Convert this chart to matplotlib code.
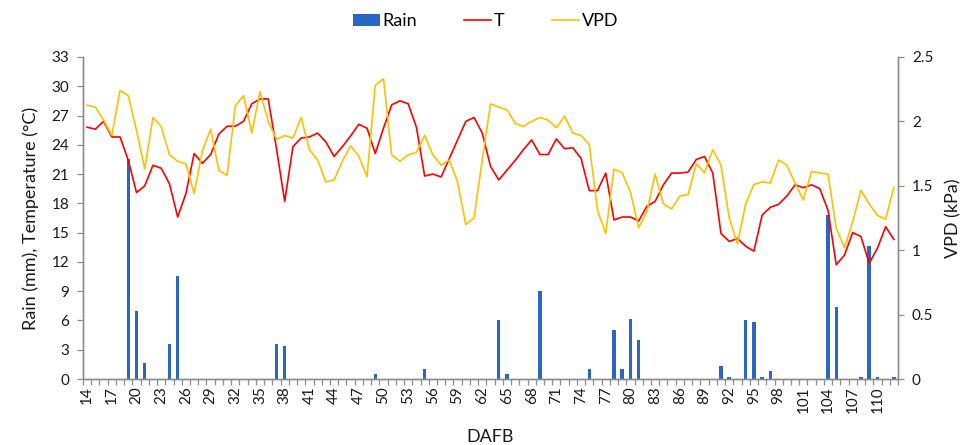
import numpy as np
import matplotlib.pyplot as plt

plt.rcParams['font.family'] = ['Lato', 'DejaVu Sans']

# === DONNÉES ===
dafb = list(range(14, 113))

rain = [0, 0, 0, 0, 0, 22.5, 7.0, 1.6, 0, 0,
        3.6, 10.6, 0, 0, 0, 0, 0, 0, 0, 0,
        0, 0, 0, 3.6, 3.4, 0, 0, 0, 0, 0,
        0, 0, 0, 0, 0, 0.5, 0, 0, 0, 0,
        0, 1.0, 0, 0, 0, 0, 0, 0, 0, 0,
        6.0, 0.5, 0, 0, 0, 9.0, 0, 0, 0, 0,
        0, 1.0, 0, 0, 5.0, 1.0, 6.2, 4.0, 0, 0,
        0, 0, 0, 0, 0, 0, 0, 1.3, 0.2, 0,
        6.0, 5.8, 0.2, 0.8, 0, 0, 0, 0, 0, 0,
        16.8, 7.4, 0, 0, 0.2, 13.6, 0.2, 0, 0.2]

temp = [25.8, 25.6, 26.4, 24.8, 24.8, 22.4, 19.1, 19.8, 21.9, 21.6,
        20.0, 16.6, 19.0, 23.1, 22.1, 23.0, 25.1, 25.9, 25.9, 26.4,
        28.2, 28.7, 28.7, 23.6, 18.2, 23.8, 24.7, 24.8, 25.2, 24.3,
        22.8, 23.8, 24.9, 26.1, 25.7, 23.1, 25.7, 28.1, 28.5, 28.2,
        25.8, 20.8, 21.0, 20.7, 22.6, 24.5, 26.4, 26.8, 25.2, 21.8,
        20.4, 21.4, 22.4, 23.5, 24.5, 23.0, 23.0, 24.6, 23.6, 23.7,
        22.6, 19.3, 19.3, 21.1, 16.3, 16.6, 16.6, 16.2, 17.7, 18.2,
        19.9, 21.1, 21.1, 21.2, 22.5, 22.8, 21.1, 14.9, 14.1, 14.4,
        13.6, 13.1, 16.8, 17.6, 17.9, 18.75, 19.9, 19.6, 19.9, 19.5,
        17.3, 11.7, 12.7, 15.0, 14.6, 11.85, 13.4, 15.6, 14.3]

vpd = [2.125, 2.11, 2.01, 1.89, 2.24, 2.20, 1.93, 1.63, 2.03, 1.96,
       1.74, 1.69, 1.67, 1.44, 1.77, 1.94, 1.62, 1.58, 2.12, 2.20,
       1.91, 2.23, 2.00, 1.86, 1.89, 1.87, 2.03, 1.78, 1.70, 1.53,
       1.545, 1.69, 1.81, 1.73, 1.57, 2.28, 2.33, 1.74, 1.69, 1.74,
       1.76, 1.89, 1.74, 1.66, 1.70, 1.53, 1.20, 1.25, 1.70, 2.135,
       2.11, 2.09, 1.985, 1.96, 2.00, 2.03, 2.01, 1.95, 2.04, 1.91,
       1.89, 1.82, 1.31, 1.13, 1.63, 1.60, 1.45, 1.175, 1.30, 1.59,
       1.36, 1.32, 1.42, 1.43, 1.67, 1.60, 1.78, 1.66, 1.25, 1.05,
       1.36, 1.51, 1.53, 1.52, 1.70, 1.66, 1.52, 1.39, 1.61, 1.60,
       1.59, 1.17, 1.02, 1.22, 1.465, 1.36, 1.27, 1.24, 1.49]

left_ticks = list(range(0, 34, 3))
right_ticks = [0, 0.5, 1, 1.5, 2, 2.5]
right_labels = ['0', '0.5', '1', '1.5', '2', '2.5']

# === FIGURE ===
fig = plt.figure(figsize=(9.71, 4.45), dpi=100)
ax = fig.add_axes([0.0855, 0.1483, 0.8393, 0.7237])
ax2 = ax.twinx()

x = np.arange(len(dafb))
axis_col = '#8c8c8c'
txt_col = '#1a1a1a'

bars = ax.bar(x, rain, width=0.42, color='#2A66C4', label='Rain', zorder=2)
l_t, = ax.plot(x, temp, color='#FF0000', lw=1.2, label='T', zorder=3)
l_v, = ax2.plot(x, vpd, color='#FFC000', lw=1.2, label='VPD', zorder=3)

ax.set_xlim(-0.5, len(dafb) - 0.5)
ax.set_ylim(0, 33)
ax2.set_ylim(0, 2.5)

ax.set_yticks(left_ticks)
ax2.set_yticks(right_ticks)
ax2.set_yticklabels(right_labels)

# graduations entre catégories, étiquettes tous les 3 jours
ax.set_xticks(np.arange(-0.5, len(dafb), 1))
ax.set_xticklabels([])
ax.set_xticks(x[::3], minor=True)
ax.set_xticklabels([str(d) for d in dafb[::3]], minor=True, rotation=90)
ax.tick_params(axis='x', which='major', direction='out', length=4, width=0.9, color=axis_col)
ax.tick_params(axis='x', which='minor', length=0, pad=5, labelsize=11, labelcolor=txt_col)

ax.tick_params(axis='y', direction='out', length=4, width=0.9, color=axis_col,
               labelsize=11, labelcolor=txt_col, pad=6)
ax2.tick_params(axis='y', direction='out', length=4, width=0.9, color=axis_col,
                labelsize=11, labelcolor=txt_col, pad=6)

for a in (ax, ax2):
    a.spines['top'].set_visible(False)
    for s in ('left', 'right', 'bottom'):
        a.spines[s].set_color(axis_col)
        a.spines[s].set_linewidth(1.0)

ax.set_ylabel('Rain (mm), Temperature (°C)', fontsize=13, color=txt_col, labelpad=9)
ax2.set_ylabel('VPD (kPa)', fontsize=13, color=txt_col, labelpad=9)
ax.set_xlabel('DAFB', fontsize=13, color=txt_col, labelpad=12)

fig.legend([bars, l_t, l_v], ['Rain', 'T', 'VPD'], loc='center',
           bbox_to_anchor=(0.5, 0.952), ncol=3, frameon=False, fontsize=13,
           handlelength=1.5, handletextpad=0.15, columnspacing=2.6)

fig.savefig('out.png', dpi=100)
